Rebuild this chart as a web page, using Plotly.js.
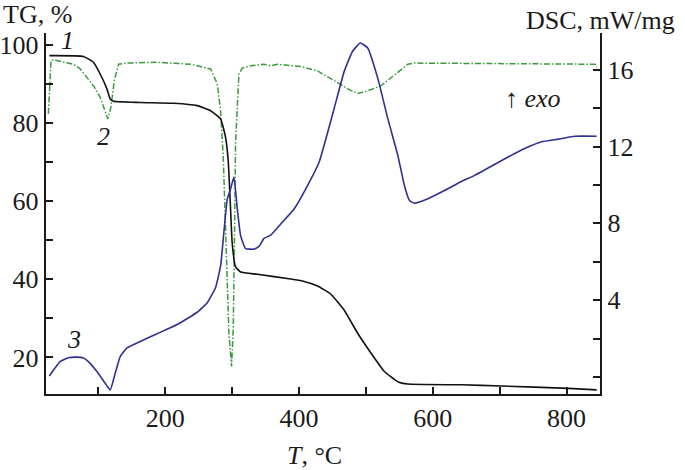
<!DOCTYPE html>
<html>
<head>
<meta charset="utf-8">
<script src="https://cdn.plot.ly/plotly-3.0.1.min.js"></script>
<style>html,body{margin:0;padding:0;background:#fff;}#chart{width:685px;height:470px;}</style>
</head>
<body>
<div id="chart"></div>
<script>
// Curve 1: TG (%), left axis
const tgT = [26.5, 77.5, 92.5, 102.5, 112.6, 117.5, 122.5, 162.5, 212.5, 247.6, 267.6, 282.6, 290, 294, 297, 300, 305, 312.6, 337.6, 387.6, 405, 427.6, 447.6, 467.5, 487.6, 507.6, 527.5, 547.6, 562.6, 642.6, 702.6, 802.6, 845];
const tgV = [97.3, 97.1, 95.6, 92.6, 88.8, 86.2, 85.6, 85.3, 85.1, 84.5, 83.2, 81.1, 76.4, 70.4, 60.0, 49.2, 43.2, 41.9, 41.3, 40.1, 39.6, 38.3, 36.2, 32.1, 26.2, 21.1, 16.4, 13.8, 13.2, 13.0, 12.7, 12.1, 11.7];

// Curve 2: green dash-dot curve (plotted on the left-axis scale)
const c2T = [25, 29, 32.5, 42.5, 52.6, 62.5, 72.6, 82.6, 92.5, 102.6, 110, 114, 118.6, 123.6, 130, 142.6, 187.6, 237.6, 252.6, 267.6, 277.6, 282.6, 286.6, 295, 299, 301.6, 303.6, 305, 310, 315, 327.6, 347.5, 357.6, 367.6, 402.6, 427.6, 452.5, 472.6, 487.6, 502.6, 522.6, 537.6, 552.6, 562.6, 572.5, 702.6, 842.5, 845];
const c2V = [82.4, 96.0, 96.2, 95.8, 95.4, 95.1, 93.9, 91.7, 89.6, 86.6, 83.2, 81.1, 84.1, 90.9, 95.1, 95.4, 95.6, 95.1, 94.5, 93.9, 90.1, 83.2, 71.3, 26.3, 17.7, 27.9, 53.4, 75.0, 92.6, 94.1, 94.7, 95.1, 94.7, 95.1, 94.5, 93.4, 90.9, 88.8, 87.6, 88.3, 89.6, 91.7, 93.9, 95.1, 95.4, 95.3, 95.1, 94.3];

// Curve 3: DSC (mW/mg), right axis
const dscT = [26.5, 42.6, 55, 67, 77.5, 87, 97.6, 110, 117.5, 125, 132.6, 142.6, 162.6, 187.6, 217.6, 247.6, 262.6, 275, 282.6, 287.5, 292.6, 297.6, 302.5, 307.6, 312.6, 320, 332.5, 340, 347.5, 357.6, 372.6, 392.5, 412.6, 430, 452.5, 467.5, 480, 491.5, 502.6, 517.6, 532.6, 547.6, 557.5, 565, 572.5, 592.6, 617.5, 642.6, 662.5, 712.6, 737.5, 762.6, 787.6, 812.5, 845];
const dscV = [0.05, 0.80, 1.0, 1.03, 0.98, 0.72, 0.28, -0.33, -0.68, 0.19, 1.07, 1.51, 1.85, 2.25, 2.73, 3.37, 3.86, 4.65, 5.78, 7.53, 9.28, 9.80, 10.41, 8.75, 7.35, 6.69, 6.66, 6.80, 7.22, 7.39, 7.97, 8.75, 9.97, 11.20, 14.0, 15.92, 16.97, 17.40, 17.14, 15.57, 13.47, 11.55, 9.97, 9.19, 9.05, 9.28, 9.71, 10.18, 10.50, 11.46, 11.90, 12.25, 12.39, 12.54, 12.54];

const xTicks = [100, 200, 300, 400, 500, 600, 700, 800];
const xTickText = ['', '200', '', '400', '', '600', '', '800'];
const yTicks = [20, 30, 40, 50, 60, 70, 80, 90, 100];
const yTickText = ['20', '', '40', '', '60', '', '80', '', '100'];
const y2Ticks = [0, 2, 4, 6, 8, 10, 12, 14, 16];
const y2TickText = ['', '', '4', '', '8', '', '12', '', '16'];

const FONT = "'Liberation Serif'";
const AX = '#1a1a1a';
const TXT = '#1a1a1a';

const traces = [
  {x: c2T, y: c2V, type: 'scatter', mode: 'lines', yaxis: 'y',
   line: {color: '#3b9a3b', width: 1.5, dash: '6px,2px,1.5px,2px'}, hoverinfo: 'skip'},
  {x: dscT, y: dscV, type: 'scatter', mode: 'lines', yaxis: 'y2',
   line: {color: '#2f2f96', width: 1.6, shape: 'spline', smoothing: 0.4}, hoverinfo: 'skip'},
  {x: tgT, y: tgV, type: 'scatter', mode: 'lines', yaxis: 'y',
   line: {color: '#111111', width: 1.6, shape: 'spline', smoothing: 0.4}, hoverinfo: 'skip'}
];

const axisCommon = {
  showline: true, linewidth: 2.2, linecolor: AX, showgrid: false, zeroline: false,
  ticks: 'inside', ticklen: 7, tickwidth: 2, tickcolor: AX,
  tickfont: {family: FONT, size: 26, color: TXT}, tickmode: 'array'
};

const layout = {
  width: 685, height: 470,
  margin: {l: 46, r: 85, t: 33, b: 76},
  paper_bgcolor: '#fff', plot_bgcolor: '#fff',
  showlegend: false,
  font: {family: FONT},
  xaxis: Object.assign({}, axisCommon, {range: [21.5, 850], tickvals: xTicks, ticktext: xTickText, mirror: false}),
  yaxis: Object.assign({}, axisCommon, {range: [10.65, 103.1], tickvals: yTicks, ticktext: yTickText, side: 'left'}),
  yaxis2: Object.assign({}, axisCommon, {range: [-0.89, 17.92], tickvals: y2Ticks, ticktext: y2TickText, side: 'right', overlaying: 'y', anchor: 'x'}),
  annotations: [
    {xref: 'paper', yref: 'paper', x: 0, xshift: -45, y: 1.0, yshift: 19, xanchor: 'left', yanchor: 'middle', showarrow: false,
     text: 'TG, %', font: {family: FONT, size: 26, color: TXT}},
    {xref: 'paper', yref: 'paper', x: 0, xshift: 478, y: 1.0, yshift: 13, xanchor: 'left', yanchor: 'middle', showarrow: false,
     text: 'DSC, mW/mg', font: {family: FONT, size: 26, color: TXT}},
    {xref: 'paper', yref: 'paper', x: 0, xshift: 268, y: 0, yshift: -61, xanchor: 'center', yanchor: 'middle', showarrow: false,
     text: '<i>T</i>, °C', font: {family: FONT, size: 26, color: TXT}},
    {xref: 'x', yref: 'y', x: 54, y: 101.2, xanchor: 'center', yanchor: 'middle', showarrow: false,
     text: '<i>1</i>', font: {family: FONT, size: 26, color: TXT}},
    {xref: 'x', yref: 'y', x: 107, y: 76.5, xanchor: 'center', yanchor: 'middle', showarrow: false,
     text: '<i>2</i>', font: {family: FONT, size: 26, color: TXT}},
    {xref: 'x', yref: 'y', x: 63, y: 24.5, xanchor: 'center', yanchor: 'middle', showarrow: false,
     text: '<i>3</i>', font: {family: FONT, size: 26, color: TXT}},
    {xref: 'paper', yref: 'paper', x: 0, xshift: 487, y: 0.818, xanchor: 'center', yanchor: 'middle', showarrow: false,
     text: '↑ <i>exo</i>', font: {family: FONT, size: 26, color: TXT}}
  ]
};

Plotly.newPlot('chart', traces, layout, {staticPlot: true, displayModeBar: false});
</script>
</body>
</html>
